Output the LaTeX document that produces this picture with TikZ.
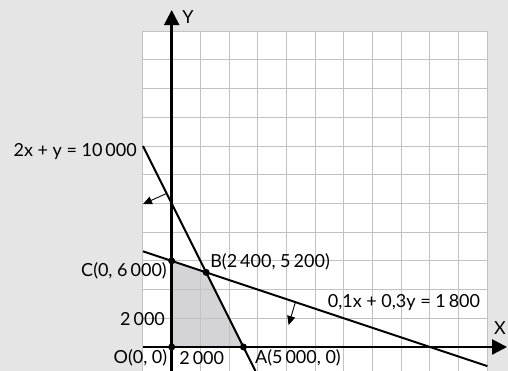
\documentclass[tikz,border=0pt]{standalone}
\usepackage{fontspec}
\setmainfont{Lato}
\usetikzlibrary{arrows.meta}
\definecolor{bg}{HTML}{E5E5E5}
\definecolor{gridgray}{HTML}{C2C2C2}
\definecolor{region}{HTML}{D4D4D8}
\begin{document}
\begin{tikzpicture}[x=14.35pt,y=14.35pt, font=\fontsize{18}{20}\selectfont,
  gridline/.style={draw=gridgray, line width=1pt},
  axis/.style={line width=2.4pt, -{Triangle[length=15pt,width=15pt]}},
  constraint/.style={line width=2pt},
  side/.style={line width=0.9pt, -{Triangle[length=9pt,width=8pt]}},
  dot/.style={circle, fill=black, inner sep=0pt, minimum size=7pt},
  lbl/.style={inner sep=0pt}]
\fill[bg] (-11.965,-1.672) rectangle (23.436,24.181);
\useasboundingbox (-11.965,-1.672) rectangle (23.436,24.181);
\fill[white] (-2,-1.672) rectangle (22,22);
% feasible region
\fill[region] (0,0) -- (5,0) -- (2.4,5.2) -- (0,6) -- cycle;
% grid
\foreach \gx in {-2,0,...,22} \draw[gridline] (\gx,-1.672) -- (\gx,22);
\foreach \gy in {0,2,...,22} \draw[gridline] (-2,\gy) -- (22,\gy);
% axes
\coordinate (xs) at (-2,0);
\coordinate (xe) at (23.37,0);
\coordinate (ys) at (0,-1.672);
\coordinate (ye) at (0,23.48);
\draw[axis] (xs) -- (xe);
\draw[axis] (ys) -- (ye);
% constraint lines
\coordinate (l1a) at (-2,14);
\coordinate (l1b) at (5.836,-1.672);
\coordinate (l2a) at (-2,6.667);
\coordinate (l2b) at (22,-1.333);
\draw[constraint] (l1a) -- (l1b);
\draw[constraint] (l2a) -- (l2b);
% side arrows
\coordinate (s1a) at (-0.35,10.7);
\coordinate (s1b) at (-2.0,9.96);
\coordinate (s2a) at (8.62,3.13);
\coordinate (s2b) at (8.15,1.53);
\draw[side] (s1a) -- (s1b);
\draw[side] (s2a) -- (s2b);
% vertices
\node[dot] (O) at (0,0) {};
\node[dot] (A) at (5,0) {};
\node[dot] (B) at (2.4,5.2) {};
\node[dot] (C) at (0,6) {};
% labels
\node[lbl, anchor=east] (t1) at (-2.42,13.59) {2x + y = 10\,000};
\node[lbl, anchor=west] (t2) at (10.87,3.09) {0,1x + 0,3y = 1\,800};
\node[lbl, anchor=east] (tC) at (-0.33,5.3) {C(0, 6\,000)};
\node[lbl, anchor=west] (tB) at (2.68,5.92) {B(2\,400, 5\,200)};
\node[lbl, anchor=east] (ty2) at (-0.46,1.95) {2\,000};
\node[lbl, anchor=east] (tO) at (-0.3,-0.77) {O(0, 0)};
\node[lbl, anchor=west] (tx2) at (0.52,-0.77) {2\,000};
\node[lbl, anchor=west] (tA) at (5.8,-0.77) {A(5\,000, 0)};
\node[lbl] (tX) at (22.87,1.32) {X};
\node[lbl] (tY) at (1.14,23.0) {Y};
\end{tikzpicture}
\end{document}
